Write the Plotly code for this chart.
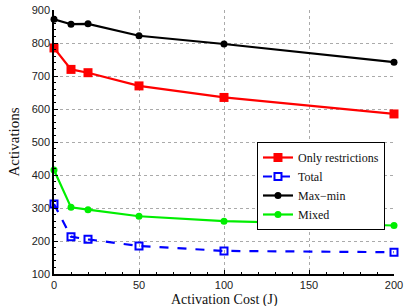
import plotly.graph_objects as go

cost = [0, 10, 20, 50, 100, 200]
only_restrictions = [785, 720, 710, 670, 635, 585]
total = [312, 213, 205, 185, 170, 166]
max_min = [872, 857, 858, 822, 797, 742]
mixed = [415, 302, 295, 275, 260, 247]

fig = go.Figure()
fig.add_trace(go.Scatter(x=cost, y=only_restrictions, name="Only restrictions", mode="lines+markers",
                         line=dict(color="#ff0000", width=2.2), cliponaxis=False,
                         marker=dict(symbol="square", size=9, color="#ff0000")))
fig.add_trace(go.Scatter(x=cost, y=total, name="Total", mode="lines+markers",
                         line=dict(color="#0000ff", width=2.2, dash="dash"), cliponaxis=False,
                         marker=dict(symbol="square-open", size=7, color="#0000ff", line=dict(width=2))))
fig.add_trace(go.Scatter(x=cost, y=max_min, name="Max\u2212min", mode="lines+markers",
                         line=dict(color="#000000", width=2.2), cliponaxis=False,
                         marker=dict(symbol="circle", size=7, color="#000000")))
fig.add_trace(go.Scatter(x=cost, y=mixed, name="Mixed", mode="lines+markers",
                         line=dict(color="#00ee00", width=2.2), cliponaxis=False,
                         marker=dict(symbol="circle", size=7, color="#00ee00")))

axis_common = dict(
    automargin=False,
    showline=True, linecolor="black", linewidth=1.5, mirror=False,
    ticks="inside", ticklen=4, tickcolor="black",
    showgrid=True, gridcolor="#aaaaaa", griddash="dot", gridwidth=1,
    zeroline=False,
    tickfont=dict(family="Liberation Sans, Arial", size=11, color="#222"),
    minor=dict(ticks="inside", ticklen=2, tickcolor="black", showgrid=False),
)

fig.update_xaxes(range=[0, 200], dtick=50, ticklabelstandoff=0, **axis_common)
fig.update_yaxes(range=[100, 900], dtick=100, title=dict(text="Activations", standoff=8,
                 font=dict(family="Liberation Serif, Times New Roman", size=15, color="#111")),
                 **axis_common)

fig.add_annotation(text="Activation Cost (J)", xref="paper", yref="paper", x=0.5, y=0,
                   xanchor="center", yanchor="top", yshift=-16, showarrow=False,
                   font=dict(family="Liberation Serif, Times New Roman", size=14, color="#111"))

fig.update_layout(
    width=411, height=306,
    margin=dict(l=54, r=17, t=10, b=32),
    plot_bgcolor="white", paper_bgcolor="white",
    legend=dict(x=0.597, y=0.5, xanchor="left", yanchor="top",
                bordercolor="black", borderwidth=1, bgcolor="white",
                font=dict(family="Liberation Serif, Times New Roman", size=12, color="#111"),
                tracegroupgap=0, itemwidth=30),
    showlegend=True,
)

fig.write_html("out.html", config={"displayModeBar": False},
               post_script="document.body.style.margin='0px';")
